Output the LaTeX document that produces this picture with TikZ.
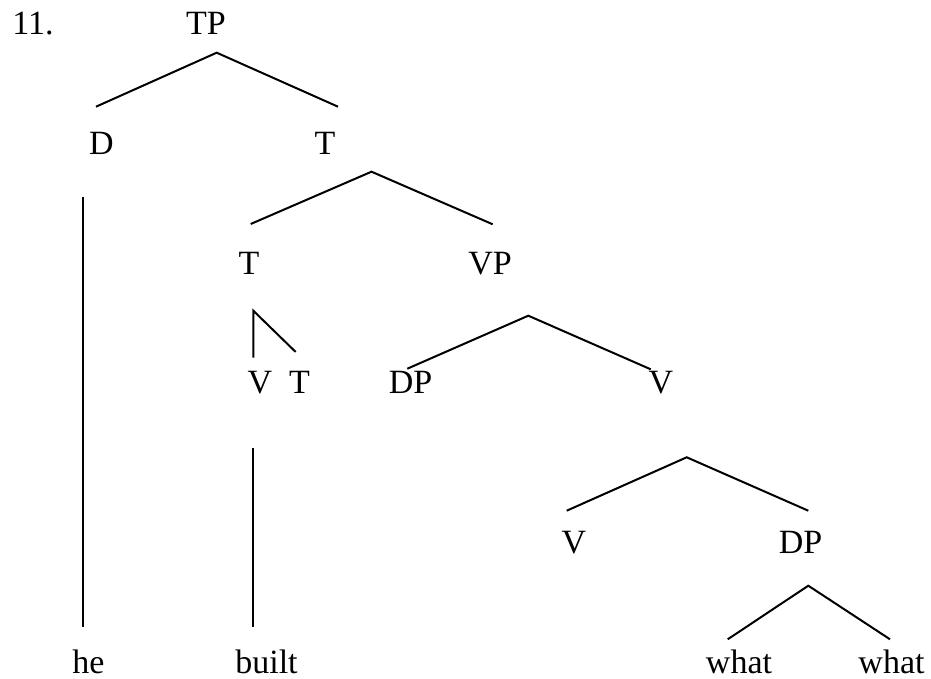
\documentclass[tikz,border=0pt]{standalone}
\usepackage{fontspec}
\setmainfont{Liberation Serif}
\usetikzlibrary{positioning}

\begin{document}
\begin{tikzpicture}[
      x=1pt, y=-1pt,
      cat/.style={anchor=base, inner sep=0pt, font=\fontsize{34}{40}\selectfont},
      branch/.style={line width=2pt}
    ]
    \useasboundingbox (0,0) rectangle (931,679);

    \node[cat] (num) at (33,35) {11.};
    \node[cat] (tp) at (206,35) {TP};

    \node[cat] (d) at (101.5,155) {D};
    \node[cat] (t1) at (325,155) {T};

    \node[cat] (t2) at (249,274) {T};
    \node[cat] (vp) at (490,274) {VP};

    \node[cat] (v1) at (260,393) {V};
    \node[cat] (t3) at (299.5,393) {T};
    \node[cat] (dp1) at (410.5,393) {DP};
    \node[cat] (v2) at (661,393) {V};

    \node[cat] (v3) at (574,553) {V};
    \node[cat] (dp2) at (800.5,553) {DP};

    \node[cat] (he) at (88.5,673) {he};
    \node[cat] (built) at (266.5,673) {built};
    \node[cat] (what1) at (739,673) {what};
    \node[cat] (what2) at (891.5,673) {what};

    \coordinate (tp-top) at (216.7,52.7);
    \coordinate (tp-l) at (96,106.7);
    \coordinate (tp-r) at (338,106.7);
    \coordinate (d-top) at (82.7,196.7);
    \coordinate (d-bot) at (82.7,627);
    \coordinate (t1-top) at (371.5,171.7);
    \coordinate (t1-l) at (250.7,224);
    \coordinate (t1-r) at (492.7,224.3);
    \coordinate (t2-top) at (253.3,310.7);
    \coordinate (t2-l) at (253.3,357.7);
    \coordinate (t2-r) at (295.7,352);
    \coordinate (vp-top) at (528.3,315.7);
    \coordinate (vp-l) at (407.3,368.7);
    \coordinate (vp-r) at (650.7,369.3);
    \coordinate (v1-top) at (253.3,448.3);
    \coordinate (v1-bot) at (253.3,627);
    \coordinate (v2-top) at (686.7,457.3);
    \coordinate (v2-l) at (566.7,510.7);
    \coordinate (v2-r) at (808.3,510.7);
    \coordinate (dp2-top) at (808.3,585.7);
    \coordinate (dp2-l) at (727.7,639.3);
    \coordinate (dp2-r) at (890,639.3);

    \draw[branch] (tp-l) -- (tp-top) -- (tp-r);
    \draw[branch] (d-top) -- (d-bot);
    \draw[branch] (t1-l) -- (t1-top) -- (t1-r);
    \draw[branch] (t2-l) -- (t2-top) -- (t2-r);
    \draw[branch] (vp-l) -- (vp-top) -- (vp-r);
    \draw[branch] (v1-top) -- (v1-bot);
    \draw[branch] (v2-l) -- (v2-top) -- (v2-r);
    \draw[branch] (dp2-l) -- (dp2-top) -- (dp2-r);
  \end{tikzpicture}
\end{document}
